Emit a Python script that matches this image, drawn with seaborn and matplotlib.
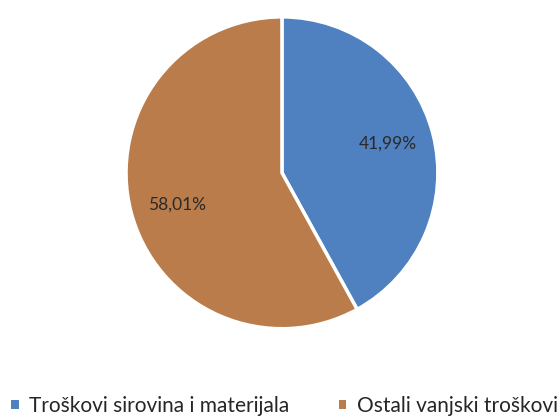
import numpy as np
import seaborn as sns
import matplotlib.pyplot as plt
from matplotlib.patches import Patch

categories = ['Troškovi sirovina i materijala', 'Ostali vanjski troškovi']
shares = [41.99, 58.01]
share_labels = ['41,99%', '58,01%']
colors = ['#4f80bf', '#b97c4a']

sns.set_theme(style='white')
plt.rcParams['font.family'] = ['Lato', 'DejaVu Sans']

fig = plt.figure(figsize=(5.58, 4.18), dpi=100)
ax = fig.add_axes([0.2258, 0.2136, 0.559, 0.746])

wedges, _ = ax.pie(shares, colors=colors, startangle=90, counterclock=False,
                   wedgeprops=dict(edgecolor='white', linewidth=2.5))
ax.set_xlim(-1, 1)
ax.set_ylim(-1, 1)
ax.set_aspect('equal')

# label placement roughly as in the excel original
label_pos = [(15.5, 0.705), (197, 0.705)]
for lab, (ang, r) in zip(share_labels, label_pos):
    a = np.deg2rad(ang)
    ax.text(r * np.cos(a), r * np.sin(a), lab, ha='center', va='center',
            fontsize=12.5, color='#2a2a2a')

handles = [Patch(facecolor=c, edgecolor='none') for c in colors]
fig.legend(handles, categories, loc='lower center', bbox_to_anchor=(0.51, -0.04),
           ncol=2, frameon=False, fontsize=15, handlelength=0.35, handleheight=0.35,
           handletextpad=0.5, columnspacing=2.4)

fig.savefig('out.png', dpi=100)
